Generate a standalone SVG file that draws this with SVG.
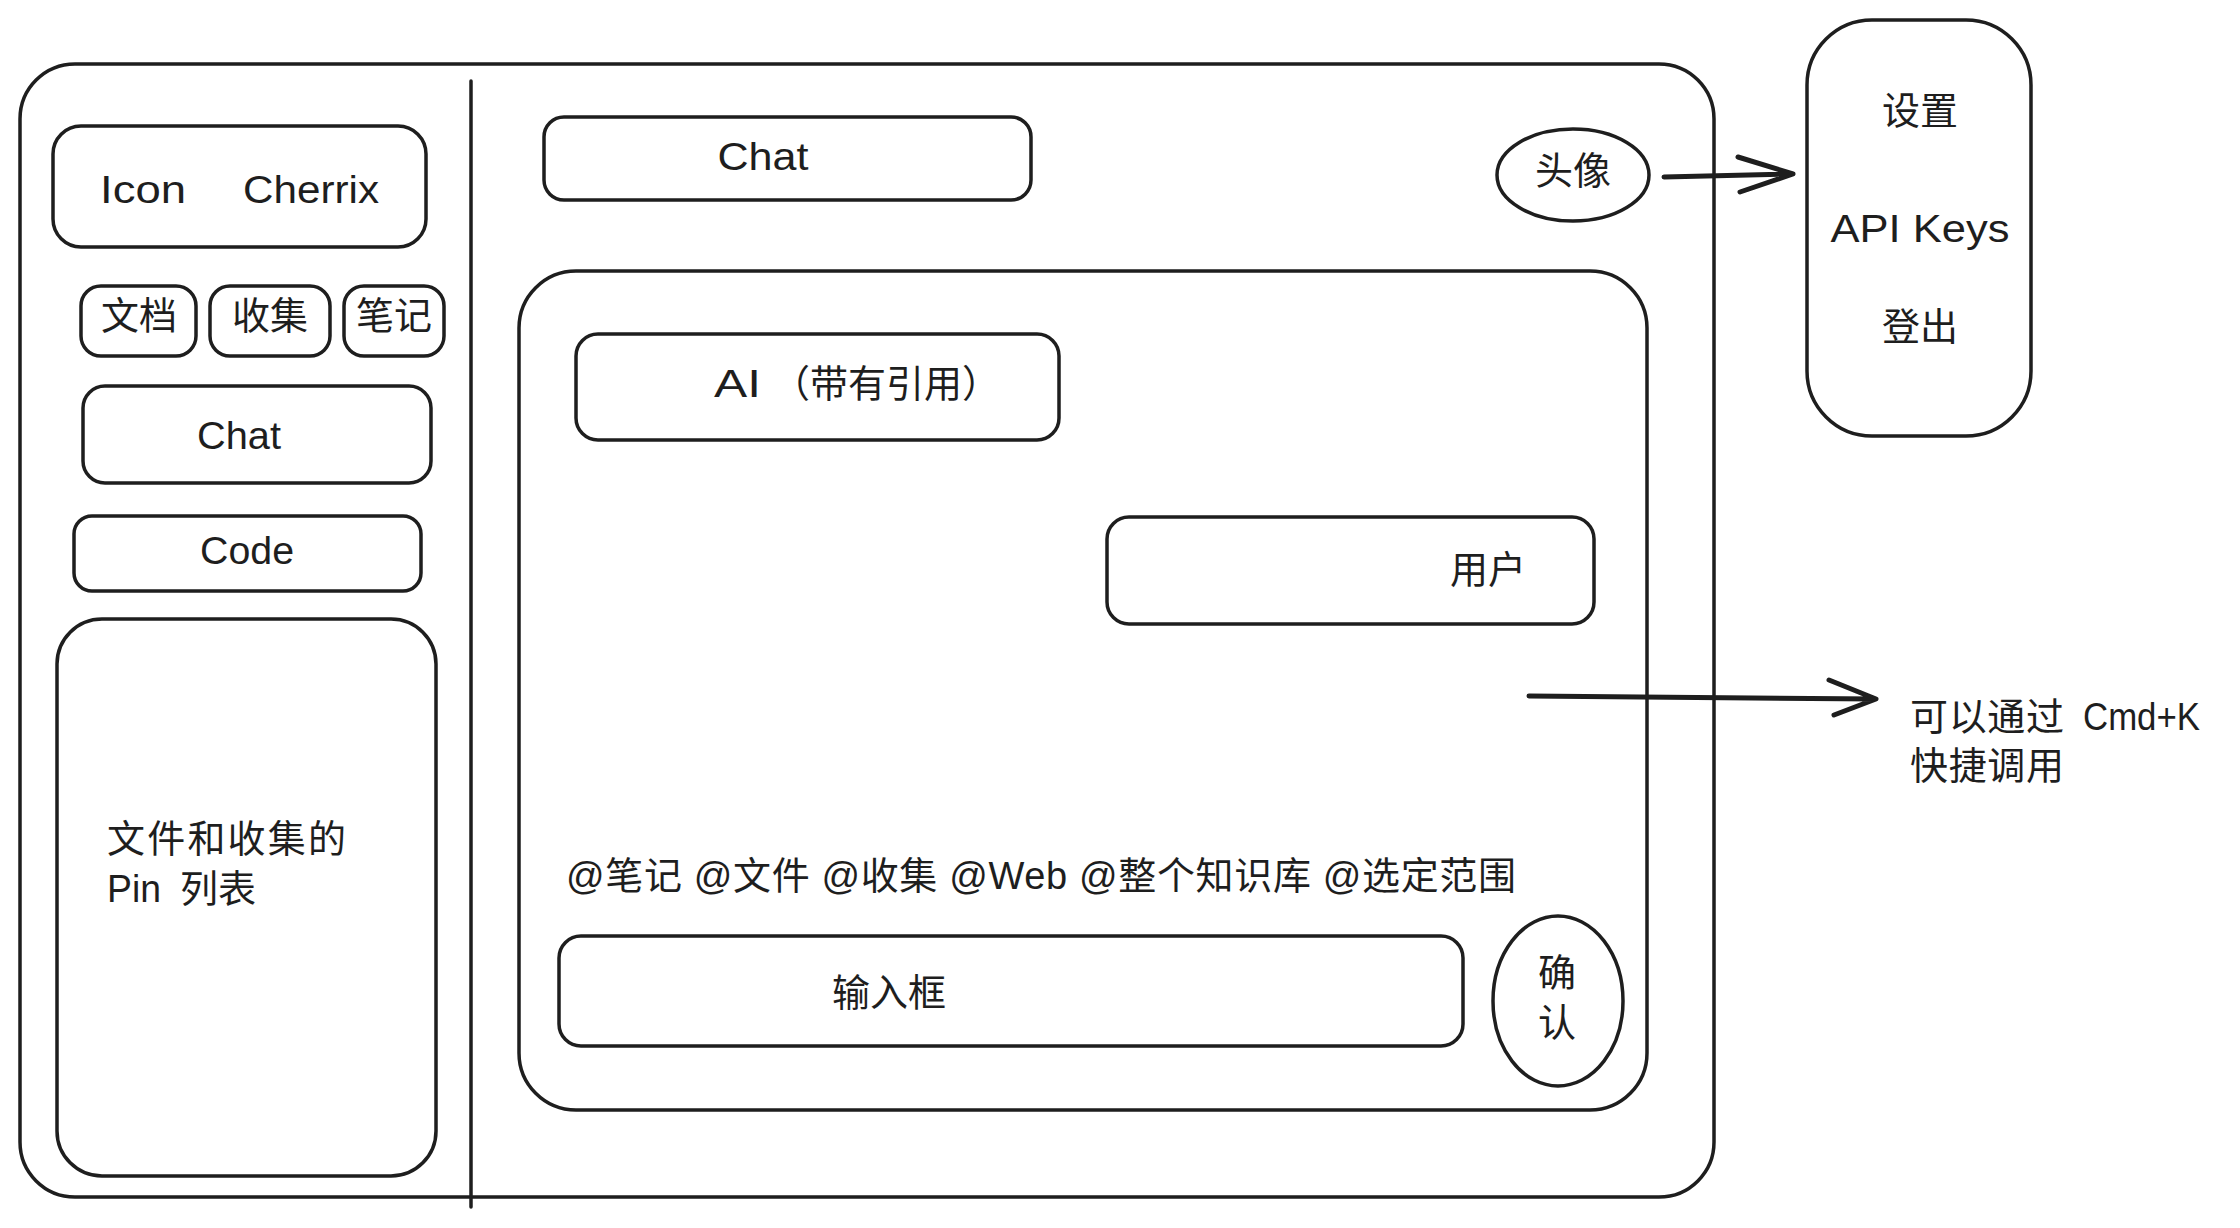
<svg xmlns="http://www.w3.org/2000/svg" width="2240" height="1228" viewBox="0 0 2240 1228">
<style>
.b{fill:none;stroke:#1e1e1e;stroke-width:3.5;stroke-linecap:round;stroke-linejoin:round}
.t{font-family:"Liberation Sans","Noto Sans CJK SC",sans-serif;font-size:38px;fill:#1e1e1e;dominant-baseline:central}
.c{text-anchor:middle}
.w{stroke-width:5}
</style>
<rect width="2240" height="1228" fill="#ffffff"/>
<g id="frame"><rect class="b" x="20" y="64" width="1694" height="1133" rx="55"/></g>
<g id="divider"><line class="b" x1="471" y1="81" x2="471" y2="1207"/></g>
<g id="brand"><rect class="b" x="53" y="126" width="373" height="121" rx="28"/><text class="t" x="100" y="190" textLength="86" lengthAdjust="spacingAndGlyphs">Icon</text><text class="t" x="243" y="190" textLength="136" lengthAdjust="spacingAndGlyphs">Cherrix</text></g>
<g id="tab-docs"><rect class="b" x="81" y="286" width="115" height="70" rx="20"/><text class="t c" x="139" y="316">文档</text></g>
<g id="tab-collect"><rect class="b" x="210" y="286" width="120" height="70" rx="20"/><text class="t c" x="270" y="316">收集</text></g>
<g id="tab-notes"><rect class="b" x="344" y="286" width="100" height="70" rx="20"/><text class="t c" x="394" y="316">笔记</text></g>
<g id="nav-chat"><rect class="b" x="83" y="386" width="348" height="97" rx="22"/><text class="t c" x="239" y="436" textLength="84" lengthAdjust="spacingAndGlyphs">Chat</text></g>
<g id="nav-code"><rect class="b" x="74" y="516" width="347" height="75" rx="18"/><text class="t c" x="247" y="551" textLength="94" lengthAdjust="spacingAndGlyphs">Code</text></g>
<g id="pin-list"><rect class="b" x="57" y="619" width="379" height="557" rx="45"/><text class="t" x="107" y="839" textLength="239" lengthAdjust="spacing">文件和收集的</text><text class="t" x="107" y="889" textLength="54" lengthAdjust="spacingAndGlyphs">Pin</text><text class="t" x="180" y="889">列表</text></g>
<g id="title-chat"><rect class="b" x="544" y="117" width="487" height="83" rx="20"/><text class="t c" x="763" y="157" textLength="91" lengthAdjust="spacingAndGlyphs">Chat</text></g>
<g id="avatar"><ellipse class="b" cx="1573" cy="175" rx="76" ry="46"/><text class="t c" x="1573" y="171">头像</text></g>
<g id="menu"><rect class="b" x="1807" y="20" width="224" height="416" rx="65"/><text class="t c" x="1920" y="111">设置</text><text class="t c" x="1920" y="229" textLength="179" lengthAdjust="spacingAndGlyphs">API Keys</text><text class="t c" x="1920" y="327">登出</text></g>
<g id="chat-area"><rect class="b" x="519" y="271" width="1128" height="839" rx="57"/></g>
<g id="ai-msg"><rect class="b" x="576" y="334" width="483" height="106" rx="22"/><text class="t" x="714" y="384" textLength="47" lengthAdjust="spacingAndGlyphs">AI</text><text class="t" x="772" y="384">（带有引用）</text></g>
<g id="user-msg"><rect class="b" x="1107" y="517" width="487" height="107" rx="22"/><text class="t" x="1450" y="570">用户</text></g>
<g id="mentions"><text class="t" x="566" y="876" textLength="950" lengthAdjust="spacing">@笔记 @文件 @收集 @Web @整个知识库 @选定范围</text></g>
<g id="input"><rect class="b" x="559" y="936" width="904" height="110" rx="22"/><text class="t c" x="889" y="993">输入框</text></g>
<g id="confirm"><ellipse class="b" cx="1558" cy="1001" rx="65" ry="85"/><text class="t c" x="1557" y="973">确</text><text class="t c" x="1557" y="1023">认</text></g>
<g id="hint"><text class="t" x="1910" y="717" textLength="154" lengthAdjust="spacing">可以通过</text><text class="t" x="2083" y="717" textLength="117" lengthAdjust="spacingAndGlyphs">Cmd+K</text><text class="t" x="1910" y="766" textLength="154" lengthAdjust="spacing">快捷调用</text></g>
<g id="connectors">
<path class="b w" d="M1664 177 L1793 174 M1738 157 L1793 174 L1740 192"/>
<path class="b w" d="M1529 696 L1876 699 M1829 680 L1876 699 L1834 715"/>
</g>
</svg>
